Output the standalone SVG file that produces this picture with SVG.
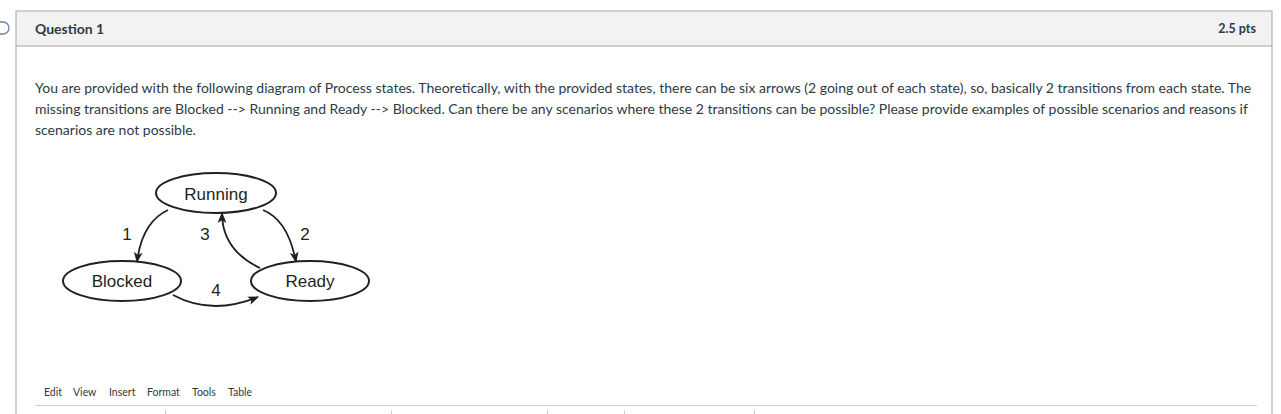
<svg xmlns="http://www.w3.org/2000/svg" width="1281" height="414" viewBox="0 0 1281 414">
<style>
.ui{font-family:Lato,"Open Sans","Liberation Sans",sans-serif;fill:#2d3b45}
.tb{font-family:Lato,"Open Sans","Liberation Sans",sans-serif;fill:#2d3b45;font-size:10.5px}
.lbl{font-family:"Liberation Sans",Arial,sans-serif;font-size:17px;fill:#231f20;text-anchor:middle;dominant-baseline:central}
.st{fill:#fff;stroke:#231f20;stroke-width:2}
.edge{fill:none;stroke:#231f20;stroke-width:1.8;marker-end:url(#ah)}
</style>
<defs>
<marker id="ah" viewBox="0 0 10 10" refX="9" refY="5" markerWidth="11" markerHeight="11" orient="auto" markerUnits="userSpaceOnUse">
<path d="M0,1 L10,5 L0,9 L2.5,5 Z" fill="#231f20"/>
</marker>
</defs>
<rect width="1281" height="414" fill="#fff"/>
<rect x="-12" y="22" width="21" height="12" rx="6" fill="none" stroke="#6a87a8" stroke-width="1.3"/>
<g id="panel">
<rect x="16" y="11" width="1256" height="35" fill="#f2f2f2" stroke="#a5a5a5" stroke-width="1"/>
<line x1="16" y1="46" x2="16" y2="414" stroke="#a5a5a5"/>
<line x1="1272" y1="46" x2="1272" y2="414" stroke="#a5a5a5"/>
<text class="ui" x="35" y="34" font-size="14" font-weight="bold">Question 1</text>
<text class="ui" x="1256" y="33" font-size="12.5" font-weight="bold" text-anchor="end">2.5 pts</text>
<text class="ui" font-size="14">
<tspan x="35" y="93">You are provided with the following diagram of Process states. Theoretically, with the provided states, there can be six arrows (2 going out of each state), so, basically 2 transitions from each state. The</tspan>
<tspan x="35" y="114">missing transitions are Blocked --&gt; Running and Ready --&gt; Blocked. Can there be any scenarios where these 2 transitions can be possible? Please provide examples of possible scenarios and reasons if</tspan>
<tspan x="35" y="135">scenarios are not possible.</tspan>
</text>
<text class="tb" x="44" y="396">Edit</text>
<text class="tb" x="73" y="396">View</text>
<text class="tb" x="109" y="396">Insert</text>
<text class="tb" x="147" y="396">Format</text>
<text class="tb" x="192" y="396">Tools</text>
<text class="tb" x="228" y="396">Table</text>
<line x1="35" y1="405.5" x2="1257" y2="405.5" stroke="#cfcfcf"/>
<g stroke="#d0d0d0">
<line x1="165.5" y1="410" x2="165.5" y2="414"/>
<line x1="391.5" y1="410" x2="391.5" y2="414"/>
<line x1="547.5" y1="410" x2="547.5" y2="414"/>
<line x1="624.5" y1="410" x2="624.5" y2="414"/>
<line x1="754.5" y1="410" x2="754.5" y2="414"/>
</g>
</g>
<g id="connectors">
<path class="edge" d="M168,210 Q142,222 137,262"/>
<path class="edge" d="M263,210 Q288,220 296,262"/>
<path class="edge" d="M260,268 Q222,250 222,213"/>
<path class="edge" d="M173,295 Q212,316 258,297"/>
<text class="lbl" x="127" y="234">1</text>
<text class="lbl" x="205" y="234">3</text>
<text class="lbl" x="305" y="234">2</text>
<text class="lbl" x="216" y="290">4</text>
</g>
<g id="running">
<ellipse class="st" cx="216" cy="193" rx="60" ry="20"/>
<text class="lbl" x="216" y="194">Running</text>
</g>
<g id="blocked">
<ellipse class="st" cx="122" cy="281" rx="59" ry="20"/>
<text class="lbl" x="122" y="281">Blocked</text>
</g>
<g id="ready">
<ellipse class="st" cx="310" cy="281" rx="59" ry="20"/>
<text class="lbl" x="310" y="281">Ready</text>
</g>
</svg>
